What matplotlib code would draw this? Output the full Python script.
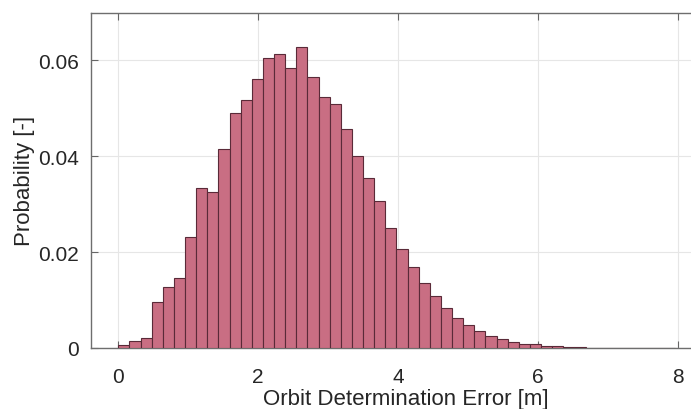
import numpy as np
import matplotlib.pyplot as plt

# probability per bin, 50 equal bins over the error range
bin_lo = 0.0
bin_hi = 7.95
prob = [0.0006, 0.0015, 0.0020, 0.0097, 0.0128, 0.0147, 0.0231, 0.0334, 0.0325, 0.0415,
        0.0491, 0.0517, 0.0561, 0.0606, 0.0614, 0.0585, 0.0627, 0.0566, 0.0523, 0.0510,
        0.0457, 0.0400, 0.0355, 0.0307, 0.0250, 0.0206, 0.0169, 0.0136, 0.0109, 0.0084,
        0.0062, 0.0049, 0.0036, 0.0024, 0.0018, 0.0013, 0.0009, 0.0008, 0.0005, 0.00035,
        0.0002, 0.00015, 0.0001, 0.0001, 0.00007, 0.00005, 0.00003, 0.00002, 0.00001, 0.00001]
xticks = [0, 2, 4, 6, 8]
yticks = [0, 0.02, 0.04, 0.06]
yticklabels = ['0', '0.02', '0.04', '0.06']

plt.rcParams['font.family'] = ['Liberation Sans', 'DejaVu Sans']

fig = plt.figure(figsize=(6.91, 4.10), dpi=100)
W, H = 691, 410
# right edge of the box runs past the figure edge
ax = fig.add_axes([91 / W, 1 - 349 / H, (720 - 91) / W, (349 - 13.5) / H])

edges = np.linspace(bin_lo, bin_hi, len(prob) + 1)
ax.bar(edges[:-1], prob, width=np.diff(edges), align='edge',
       color='#c96e83', edgecolor='#5a2a38', linewidth=0.8, zorder=3)

ax.set_xlim(-0.39, 8.6)
ax.set_ylim(0, 0.07)
ax.set_xticks(xticks)
ax.set_yticks(yticks)
ax.set_yticklabels(yticklabels)
ax.grid(True, color='#e6e6e6', linewidth=0.8, zorder=0)
ax.tick_params(direction='in', length=5, width=0.8, colors='#666666',
               labelcolor='#262626', labelsize=15, top=True, right=True)
ax.tick_params(axis='x', pad=14)
ax.tick_params(axis='y', pad=9)
for s in ax.spines.values():
    s.set_color('#6e6e6e')
    s.set_linewidth(1.0)

ax.set_xlabel('Orbit Determination Error [m]', fontsize=16, color='#262626', labelpad=1)
ax.set_ylabel('Probability [-]', fontsize=16, color='#262626', labelpad=2)

fig.savefig('out.png', dpi=100)
